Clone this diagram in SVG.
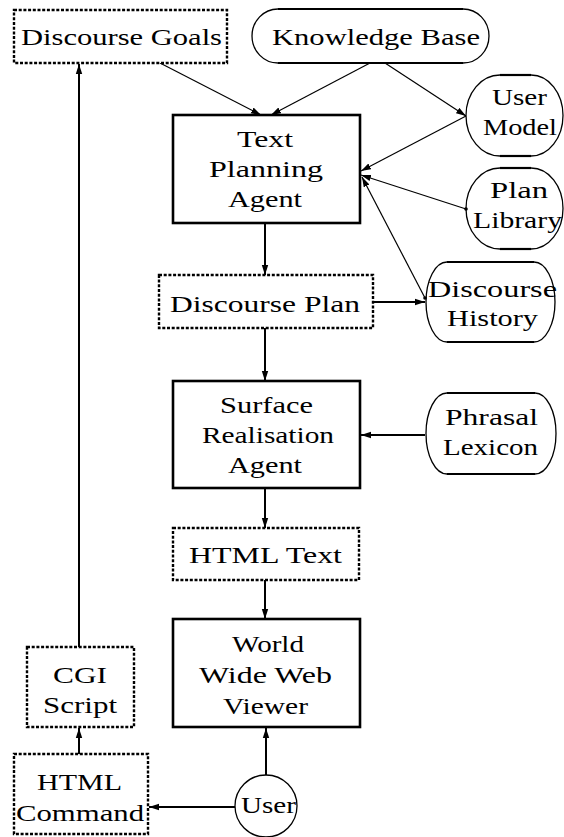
<svg xmlns="http://www.w3.org/2000/svg" width="564" height="837" viewBox="0 0 564 837" font-family="Liberation Serif, DejaVu Serif, Times New Roman, serif">
<style>
text{font-size:24px;fill:#000;text-anchor:middle}
.solid{fill:#fff;stroke:#000;stroke-width:2.6}
.dash{fill:#fff;stroke:#000;stroke-width:2.4;stroke-dasharray:3 1.7}
.arc{fill:none;stroke:#000;stroke-width:1.3}
.flat{fill:none;stroke:#000;stroke-width:2.2}
.thick{fill:none;stroke:#000;stroke-width:2;marker-end:url(#ah)}
.thin{fill:none;stroke:#000;stroke-width:1.2;marker-end:url(#ah)}
</style>
<defs>
<marker id="ah" markerUnits="userSpaceOnUse" viewBox="0 0 10 8" refX="10" refY="4" markerWidth="10" markerHeight="8" orient="auto">
<path d="M0,0.8 L10,4 L0,7.2 Z" fill="#000"/>
</marker>
<marker id="dot" markerUnits="userSpaceOnUse" viewBox="0 0 4 4" refX="2" refY="2" markerWidth="4" markerHeight="4">
<circle cx="2" cy="2" r="1.8" fill="#000"/>
</marker>
</defs>
<rect width="564" height="837" fill="#fff"/>

<g id="connectors">
<line class="thin" x1="160" y1="63" x2="261" y2="115"/>
<line class="thin" x1="370" y1="63" x2="271" y2="115"/>
<line class="thin" x1="385" y1="63" x2="466" y2="116"/>
<line class="thin" x1="466" y1="116" x2="361" y2="171"/>
<line class="thin" x1="466" y1="209" x2="361" y2="175" marker-start="url(#dot)"/>
<line class="thin" x1="425" y1="298" x2="362" y2="177" marker-start="url(#dot)"/>
<line class="thick" x1="373" y1="302" x2="425" y2="302"/>
<line class="thick" x1="265" y1="223" x2="265" y2="275"/>
<line class="thick" x1="265" y1="328" x2="265" y2="381"/>
<line class="thick" x1="425" y1="435" x2="361" y2="435"/>
<line class="thick" x1="265" y1="488" x2="265" y2="528"/>
<line class="thick" x1="265" y1="580" x2="265" y2="619"/>
<line class="thick" x1="266" y1="775" x2="266" y2="728"/>
<line class="thick" x1="235" y1="807" x2="149" y2="807"/>
<line class="thick" x1="79" y1="754" x2="79" y2="728"/>
<line class="thick" x1="79" y1="647" x2="79" y2="64"/>
</g>

<g id="discourse-goals">
<rect class="dash" x="14" y="10" width="213" height="53"/>
<text x="121.5" y="45" textLength="201" lengthAdjust="spacingAndGlyphs">Discourse Goals</text>
</g>

<g id="knowledge-base">
<path d="M278,9 H463" class="flat"/>
<path d="M278,63 H463" class="flat"/>
<path d="M278,9 A26,27 0 0 0 278,63" class="arc"/>
<path d="M463,9 A26,27 0 0 1 463,63" class="arc"/>
<text x="376" y="45" textLength="208" lengthAdjust="spacingAndGlyphs">Knowledge Base</text>
</g>

<g id="text-planning-agent">
<rect class="solid" x="173" y="115" width="187" height="108"/>
<text x="265" y="147" textLength="56" lengthAdjust="spacingAndGlyphs">Text</text>
<text x="266" y="177" textLength="114" lengthAdjust="spacingAndGlyphs">Planning</text>
<text x="265" y="207" textLength="74" lengthAdjust="spacingAndGlyphs">Agent</text>
</g>

<g id="user-model">
<path d="M500,75 H531" class="flat"/>
<path d="M500,156 H531" class="flat"/>
<path d="M500,75 A34,40.5 0 0 0 500,156" class="arc"/>
<path d="M531,75 A32,40.5 0 0 1 531,156" class="arc"/>
<text x="519.5" y="105" textLength="55" lengthAdjust="spacingAndGlyphs">User</text>
<text x="520" y="135" textLength="74" lengthAdjust="spacingAndGlyphs">Model</text>
</g>

<g id="plan-library">
<path d="M500,168 H531" class="flat"/>
<path d="M500,249 H531" class="flat"/>
<path d="M500,168 A34,40.5 0 0 0 500,249" class="arc"/>
<path d="M531,168 A32,40.5 0 0 1 531,249" class="arc"/>
<text x="519" y="198" textLength="58" lengthAdjust="spacingAndGlyphs">Plan</text>
<text x="517.5" y="228" textLength="89" lengthAdjust="spacingAndGlyphs">Library</text>
</g>

<g id="discourse-plan">
<rect class="dash" x="159" y="275" width="214" height="53"/>
<text x="265" y="312" textLength="190" lengthAdjust="spacingAndGlyphs">Discourse Plan</text>
</g>

<g id="discourse-history">
<path d="M447,262 H534" class="flat"/>
<path d="M447,342 H534" class="flat"/>
<path d="M447,262 A21,40 0 0 0 447,342" class="arc"/>
<path d="M534,262 A21,40 0 0 1 534,342" class="arc"/>
<text x="492.5" y="297" textLength="129" lengthAdjust="spacingAndGlyphs">Discourse</text>
<text x="492.5" y="326" textLength="91" lengthAdjust="spacingAndGlyphs">History</text>
</g>

<g id="surface-realisation-agent">
<rect class="solid" x="173" y="381" width="187" height="107"/>
<text x="266.5" y="413" textLength="93" lengthAdjust="spacingAndGlyphs">Surface</text>
<text x="268" y="443" textLength="132" lengthAdjust="spacingAndGlyphs">Realisation</text>
<text x="265" y="473" textLength="74" lengthAdjust="spacingAndGlyphs">Agent</text>
</g>

<g id="phrasal-lexicon">
<path d="M447,393 H535" class="flat"/>
<path d="M447,474 H535" class="flat"/>
<path d="M447,393 A21,40.5 0 0 0 447,474" class="arc"/>
<path d="M535,393 A21,40.5 0 0 1 535,474" class="arc"/>
<text x="491.5" y="425" textLength="93" lengthAdjust="spacingAndGlyphs">Phrasal</text>
<text x="490.5" y="455" textLength="95" lengthAdjust="spacingAndGlyphs">Lexicon</text>
</g>

<g id="html-text">
<rect class="dash" x="173" y="528" width="186" height="52"/>
<text x="265.5" y="563" textLength="153" lengthAdjust="spacingAndGlyphs">HTML Text</text>
</g>

<g id="www-viewer">
<rect class="solid" x="173" y="619" width="187" height="108"/>
<text x="268" y="652" textLength="72" lengthAdjust="spacingAndGlyphs">World</text>
<text x="265.5" y="683" textLength="133" lengthAdjust="spacingAndGlyphs">Wide Web</text>
<text x="265.5" y="714" textLength="85" lengthAdjust="spacingAndGlyphs">Viewer</text>
</g>

<g id="cgi-script">
<rect class="dash" x="27" y="647" width="107" height="80"/>
<text x="80" y="683" textLength="54" lengthAdjust="spacingAndGlyphs">CGI</text>
<text x="80" y="713" textLength="74" lengthAdjust="spacingAndGlyphs">Script</text>
</g>

<g id="html-command">
<rect class="dash" x="14" y="754" width="134" height="80"/>
<text x="79.5" y="790" textLength="85" lengthAdjust="spacingAndGlyphs">HTML</text>
<text x="80" y="821" textLength="128" lengthAdjust="spacingAndGlyphs">Command</text>
</g>

<g id="user">
<circle cx="266" cy="806" r="31" fill="#fff" stroke="#000" stroke-width="1.3"/>
<text x="268.5" y="813" textLength="55" lengthAdjust="spacingAndGlyphs">User</text>
</g>
</svg>
